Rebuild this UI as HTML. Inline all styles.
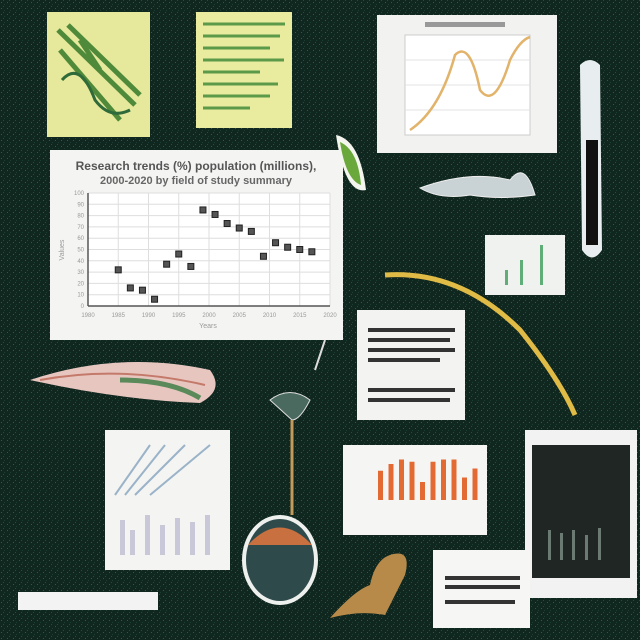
<!DOCTYPE html>
<html><head><meta charset="utf-8"><style>
html,body{margin:0;padding:0;background:#10271f;}
svg{display:block;font-family:"Liberation Sans",sans-serif;}
</style></head><body>
<svg id="s" width="640" height="640" viewBox="0 0 640 640">
<defs>
<pattern id="noise" width="6" height="6" patternUnits="userSpaceOnUse">
<rect width="6" height="6" fill="#10271f"/><rect x="1" y="2" width="1" height="1" fill="#2f5a48"/><rect x="4" y="4" width="1" height="1" fill="#1d3f33"/><rect x="3" y="0" width="1" height="1" fill="#264d3e"/>
</pattern>
</defs>
<rect width="640" height="640" fill="url(#noise)"/>

<g>
<rect x="47" y="12" width="103" height="125" fill="#e6e99c"/>
<path d="M58 30 L135 105 M68 25 L140 95 M60 50 L120 120 M80 40 L100 70" stroke="#4f8a3a" stroke-width="5" fill="none"/>
<path d="M62 80 Q80 60 95 100 Q110 120 130 110" stroke="#2f6a3a" stroke-width="3" fill="none"/>
</g>
<g>
<rect x="196" y="12" width="96" height="116" fill="#e9ec9e"/>
<g stroke="#5c9a4a" stroke-width="3">
<line x1="203" y1="24" x2="285" y2="24"/><line x1="203" y1="36" x2="280" y2="36"/><line x1="203" y1="48" x2="270" y2="48"/><line x1="203" y1="60" x2="284" y2="60"/><line x1="203" y1="72" x2="260" y2="72"/><line x1="203" y1="84" x2="278" y2="84"/><line x1="203" y1="96" x2="270" y2="96"/><line x1="203" y1="108" x2="250" y2="108"/>
</g></g>

<g>
<rect x="377" y="15" width="180" height="138" fill="#f2f2f0"/>
<rect x="405" y="35" width="125" height="100" fill="#fff" stroke="#ccc"/>
<g stroke="#e3e3e3"><line x1="405" y1="60" x2="530" y2="60"/><line x1="405" y1="85" x2="530" y2="85"/><line x1="405" y1="110" x2="530" y2="110"/></g>
<path d="M410 130 Q440 110 455 55 Q470 40 480 90 Q495 110 510 60 Q520 40 530 37" stroke="#e2b36a" stroke-width="2.5" fill="none"/>
<rect x="425" y="22" width="80" height="5" fill="#999"/>
</g>

<g>
<path d="M580 65 Q590 55 600 65 L602 250 Q592 265 582 250 Z" fill="#e8eef0"/>
<rect x="586" y="140" width="12" height="105" fill="#111"/>
</g>

<g>
<rect x="50" y="150" width="293" height="190" fill="#f4f5f3"/>
<text x="196" y="170" font-size="12" font-weight="bold" fill="#555" text-anchor="middle">Research trends (%) population (millions),</text>
<text x="196" y="184" font-size="11" font-weight="bold" fill="#666" text-anchor="middle">2000-2020 by field of study summary</text>
<g id="plot"></g>
<text x="208" y="328" font-size="7" fill="#999" text-anchor="middle">Years</text>
<text x="64" y="250" font-size="7" fill="#999" text-anchor="middle" transform="rotate(-90 64 250)">Values</text>
</g>

<g>
<path d="M336 135 Q360 140 366 190 Q345 195 336 135 Z" fill="#f3f5ee"/>
<path d="M340 142 Q358 150 361 185 Q346 180 340 142 Z" fill="#6aa83c"/>
</g>
<g>
<path d="M420 188 Q470 170 510 180 Q525 160 535 195 Q500 200 470 195 Q440 200 420 188 Z" fill="#c9d2d4" stroke="#eee"/>
</g>
<g>
<rect x="485" y="235" width="80" height="60" fill="#f0f2f0"/>
<g fill="#5fae78"><rect x="505" y="270" width="3" height="15"/><rect x="520" y="260" width="3" height="25"/><rect x="540" y="245" width="3" height="40"/></g>
</g>
<path d="M385 275 Q460 270 520 330 Q560 380 575 415" stroke="#e0bb45" stroke-width="5" fill="none"/>

<g>
<rect x="357" y="310" width="108" height="110" fill="#f3f3f1"/>
<g stroke="#333" stroke-width="4"><line x1="368" y1="330" x2="455" y2="330"/><line x1="368" y1="340" x2="450" y2="340"/><line x1="368" y1="350" x2="455" y2="350"/><line x1="368" y1="360" x2="440" y2="360"/><line x1="368" y1="390" x2="455" y2="390"/><line x1="368" y1="400" x2="450" y2="400"/></g>
</g>

<g>
<path d="M30 380 Q120 350 210 370 Q225 390 200 403 Q120 400 30 380 Z" fill="#e8c6c0"/>
<path d="M40 380 Q120 365 205 385" stroke="#c47a6a" stroke-width="2" fill="none"/>
<path d="M120 380 Q170 380 200 398" stroke="#5a8a5a" stroke-width="5" fill="none"/>
</g>
<g>
<rect x="105" y="430" width="125" height="140" fill="#f4f4f2"/>
<path d="M115 495 L150 445 M125 495 L165 445 M135 495 L185 445 M150 495 L210 445" stroke="#9ab3c8" stroke-width="2"/>
<g fill="#c8c8d8"><rect x="120" y="520" width="5" height="35"/><rect x="130" y="530" width="5" height="25"/><rect x="145" y="515" width="5" height="40"/><rect x="160" y="525" width="5" height="30"/><rect x="175" y="518" width="5" height="37"/><rect x="190" y="522" width="5" height="33"/><rect x="205" y="515" width="5" height="40"/></g>
</g>
<g>
<path d="M270 400 Q290 385 310 400 Q300 420 292 420 Z" fill="#4a6a5f" stroke="#ddd"/>
<line x1="292" y1="420" x2="292" y2="515" stroke="#c49a5a" stroke-width="3"/>
<line x1="315" y1="370" x2="325" y2="340" stroke="#ddd" stroke-width="2"/>
<ellipse cx="280" cy="560" rx="38" ry="45" fill="#eef0ee"/>
<ellipse cx="280" cy="560" rx="34" ry="41" fill="#2f4a4a"/>
<path d="M248 545 Q280 510 312 545 Z" fill="#c87040"/>
</g>
<g>
<rect x="343" y="445" width="144" height="90" fill="#f5f5f3"/>
<g id="obars" fill="#e46a34"></g>
</g>
<g>
<rect x="525" y="430" width="112" height="168" fill="#f2f2f2"/>
<rect x="532" y="445" width="98" height="133" fill="#1f2624"/>
<g fill="#6c7a74"><rect x="548" y="530" width="3" height="30"/><rect x="560" y="533" width="3" height="27"/><rect x="572" y="530" width="3" height="30"/><rect x="585" y="535" width="3" height="25"/><rect x="598" y="528" width="3" height="32"/></g>
</g>
<g>
<rect x="433" y="550" width="97" height="78" fill="#f6f6f4"/>
<g stroke="#333" stroke-width="4"><line x1="445" y1="578" x2="520" y2="578"/><line x1="445" y1="587" x2="520" y2="587"/><line x1="445" y1="602" x2="515" y2="602"/></g>
</g>
<path d="M390 555 Q412 548 405 575 Q390 605 385 615 Q360 610 330 618 Q355 590 370 585 Q375 560 390 555 Z" fill="#b88a4a"/>
<rect x="18" y="592" width="140" height="18" fill="#f3f3f3"/>
</svg>
<script>
var years=[1985,1987,1989,1991,1993,1995,1997,1999,2001,2003,2005,2007,2009,2011,2013,2015,2017];
var values=[32,16,14,6,37,46,35,85,81,73,69,66,44,56,52,50,48];
var xTicks=[1980,1985,1990,1995,2000,2005,2010,2015,2020];
var yTicks=[0,10,20,30,40,50,60,70,80,90,100];
var barVals=[65,80,90,85,40,85,90,90,50,70];
var NS="http://www.w3.org/2000/svg";
var X0=88,X1=330,Y0=306,Y1=193;
function xs(v){return X0+(v-1980)/40*(X1-X0);}
function ys(v){return Y0-v/100*(Y0-Y1);}
function mk(t,a,p){var e=document.createElementNS(NS,t);for(var k in a)e.setAttribute(k,a[k]);p.appendChild(e);return e;}
var g=document.getElementById('plot');
mk('rect',{x:X0,y:Y1,width:X1-X0,height:Y0-Y1,fill:'#fff'},g);
yTicks.forEach(function(t){var l=mk('line',{x1:X0,x2:X1,y1:ys(t),y2:ys(t),stroke:'#dedede'},g);


var tx=mk('text',{x:X0-4,y:ys(t)+2,'font-size':6,fill:'#999','text-anchor':'end'},g);tx.textContent=t;

});
xTicks.forEach(function(t){var l=mk('line',{x1:xs(t),x2:xs(t),y1:Y1,y2:Y0,stroke:'#dedede'},g);


var tx=mk('text',{x:xs(t),y:Y0+11,'font-size':6,fill:'#999','text-anchor':'middle'},g);tx.textContent=t;

});
mk('line',{x1:X0,x2:X1,y1:Y0,y2:Y0,stroke:'#555','stroke-width':1.5},g);
mk('line',{x1:X0,x2:X0,y1:Y1,y2:Y0,stroke:'#555','stroke-width':1.5},g);
years.forEach(function(yr,i){var r=mk('rect',{x:xs(yr)-3,y:ys(values[i])-3,width:6,height:6,fill:'#555',stroke:'#222'},g);

});
var ob=document.getElementById('obars');
barVals.forEach(function(v,i){var h=v/100*45;var r=mk('rect',{x:378+i*10.5,y:500-h,width:5,height:h},ob);

});
</script>
</body></html>
